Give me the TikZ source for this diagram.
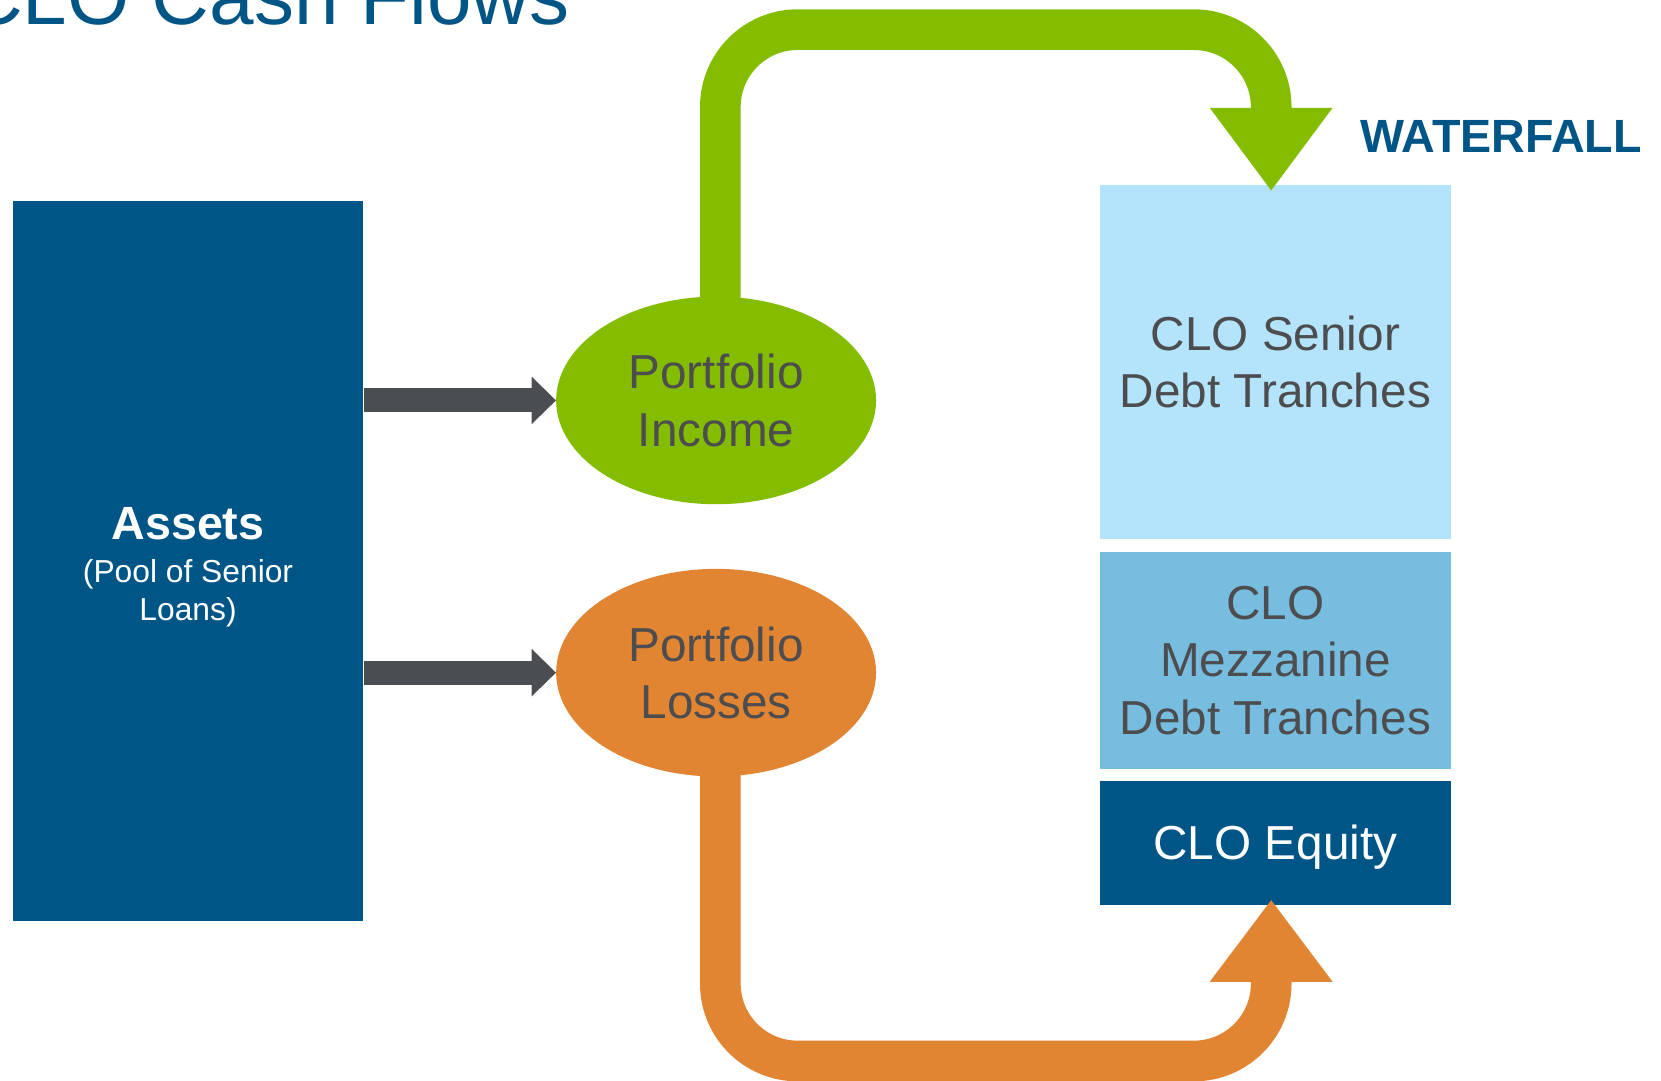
\documentclass[tikz,border=0pt]{standalone}
\usepackage{fontspec}
\setmainfont{Liberation Sans}
\usetikzlibrary{shapes.geometric,calc}
\pgfdeclarelayer{background}
\pgfsetlayers{background,main}
\definecolor{cloblue}{RGB}{0,85,135}
\definecolor{incgreen}{RGB}{132,189,0}
\definecolor{losorange}{RGB}{226,133,51}
\definecolor{seniorblue}{RGB}{180,227,252}
\definecolor{mezzblue}{RGB}{118,189,224}
\definecolor{arrowgray}{RGB}{74,77,82}
\definecolor{txtgray}{RGB}{77,77,79}
\tikzset{
  tranche/.style={rectangle, inner sep=0pt, minimum width=332pt, align=center,
    text=txtgray, font=\fontsize{45}{54}\selectfont},
  flowellipse/.style={ellipse, inner sep=0pt, minimum width=302pt, minimum height=196pt,
    align=center, text=txtgray, font=\fontsize{45}{54}\selectfont},
  flowline/.style={line width=38.4pt, rounded corners=73pt},
  feedline/.style={line width=22.6pt, arrowgray},
}
\begin{document}
\begin{tikzpicture}[x=1pt,y=1pt]
\useasboundingbox (0,0) rectangle (1568,1020);
\clip (0,0) rectangle (1568,1020);

% boxes
\node[rectangle, fill=cloblue, inner sep=0pt, minimum width=331pt, minimum height=679pt] (assets) at (177.5,490.5) {};
\node[anchor=base, inner sep=0pt, text=white, font=\bfseries\fontsize{44}{50}\selectfont] (assetsT) at (177.5,510.4) {Assets};
\node[anchor=base, inner sep=0pt, text=white, font=\fontsize{30}{36}\selectfont] (assetsS1) at (177.5,470) {(Pool of Senior};
\node[anchor=base, inner sep=0pt, text=white, font=\fontsize{30}{36}\selectfont] (assetsS2) at (177.5,434.5) {Loans)};

\node[tranche, fill=seniorblue, minimum height=334pt] (senior) at (1204,678) {CLO Senior\\Debt Tranches};
\node[tranche, fill=mezzblue, minimum height=205pt] (mezz) at (1204,396.5) {CLO\\Mezzanine\\Debt Tranches};
\node[tranche, fill=cloblue, minimum height=117pt, text=white, text depth=0pt] (equity) at (1204,224.5) {CLO Equity};

% ellipses
\node[flowellipse, fill=incgreen] (inc) at (676,642) {Portfolio\\Income};
\node[flowellipse, fill=losorange] (los) at (676,385) {Portfolio\\Losses};

% titles
\node[anchor=base west, inner sep=0pt, text=cloblue, font=\fontsize{75.5}{90}\selectfont] (title) at (-33,996.5) {CLO Cash Flows};
\node[anchor=base west, inner sep=0pt, text=cloblue, font=\bfseries\fontsize{44}{50}\selectfont] (wf) at (1284,876) {WATERFALL};

% coordinates for the flows
\coordinate (gstart) at ($(inc.center)+(4,0)$);
\coordinate (gtop) at (0,992);
\coordinate (gtip) at ($(senior.north)+(-4,-5)$);
\coordinate (ostart) at ($(los.center)+(4,0)$);
\coordinate (obot) at (0,18.4);
\coordinate (otip) at ($(equity.south)+(-4,4.4)$);

\begin{pgfonlayer}{background}
\fill[white] (0,0) rectangle (1568,1020);
\draw[flowline, incgreen] (gstart) -- (gstart |- gtop) -- (gtip |- gtop) -- ($(gtip)+(0,77)$);
\draw[flowline, losorange] (ostart) -- (ostart |- obot) -- (otip |- obot) -- ($(otip)+(0,-77)$);
\end{pgfonlayer}
\fill[incgreen] (gtip) -- ($(gtip)+(-58,78)$) -- ($(gtip)+(58,78)$) -- cycle;
\fill[losorange] (otip) -- ($(otip)+(-58,-77)$) -- ($(otip)+(58,-77)$) -- cycle;

% gray arrows
\coordinate (a1s) at (assets.east |- inc.west);
\coordinate (a2s) at (assets.east |- los.west);
\draw[feedline] (a1s) -- ($(inc.west)+(-22,0)$);
\fill[arrowgray] (inc.west) -- ($(inc.west)+(-23,22.5)$) -- ($(inc.west)+(-23,-22.5)$) -- cycle;
\draw[feedline] (a2s) -- ($(los.west)+(-22,0)$);
\fill[arrowgray] (los.west) -- ($(los.west)+(-23,22.5)$) -- ($(los.west)+(-23,-22.5)$) -- cycle;
\end{tikzpicture}
\end{document}
